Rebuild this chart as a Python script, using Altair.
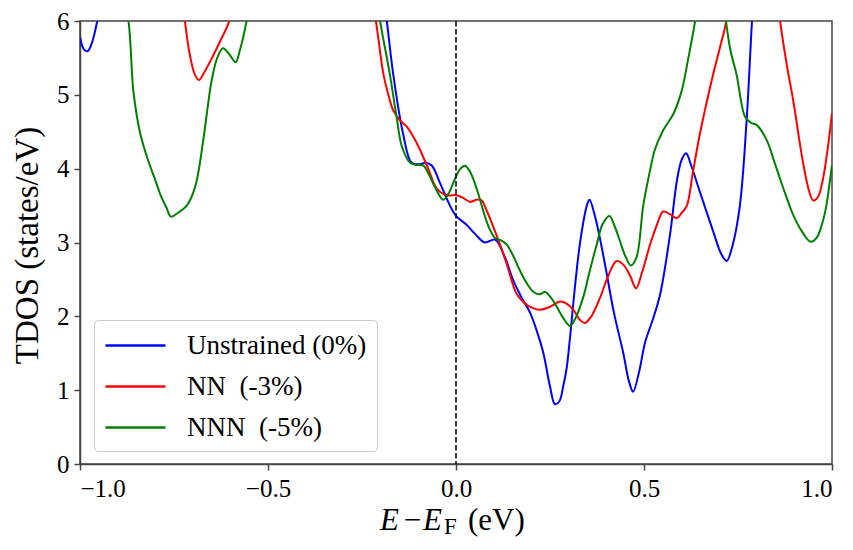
import altair as alt
import pandas as pd

FONT = "Liberation Serif"

series_names = ["Unstrained (0%)", "NN \u00a0(-3%)", "NNN \u00a0(-5%)"]
series_colors = ["#0000ff", "#ff0000", "#008000"]

x_ticks = [-1.0, -0.5, 0.0, 0.5, 1.0]
y_ticks = [0, 1, 2, 3, 4, 5, 6]
fermi_level = [0.0]

unstrained_e = [-1.0, -0.99, -0.98, -0.97, -0.955, -0.94, -0.9, -0.6, -0.3, -0.2, -0.184,
                -0.167, -0.141, -0.118, -0.096, -0.08, -0.064, -0.043, -0.016, 0.0, 0.028,
                0.05, 0.077, 0.104, 0.13, 0.152, 0.175, 0.197, 0.215, 0.232, 0.25, 0.263,
                0.275, 0.285, 0.294, 0.303, 0.312, 0.33, 0.348, 0.355, 0.37, 0.385, 0.40,
                0.42, 0.445, 0.46, 0.471, 0.487, 0.503, 0.523, 0.543, 0.569, 0.587, 0.60,
                0.612, 0.625, 0.649, 0.684, 0.705, 0.72, 0.735, 0.755, 0.773, 0.787, 0.80,
                0.9, 1.0]
unstrained_dos = [5.78, 5.62, 5.59, 5.68, 5.98, 6.5, 7.5, 8.0, 8.0, 6.6, 6.0,
                  5.28, 4.48, 4.08, 4.06, 4.08, 4.04, 3.81, 3.5, 3.36, 3.24,
                  3.12, 3.0, 3.04, 2.8, 2.49, 2.25, 2.05, 1.8, 1.51, 1.05, 0.81,
                  0.85, 1.05, 1.29, 1.7, 2.18, 3.0, 3.5, 3.58, 3.35, 3.0, 2.6,
                  2.05, 1.5, 1.12, 0.98, 1.25, 1.65, 1.95, 2.3, 3.1, 3.82, 4.12,
                  4.21, 4.05, 3.68, 3.15, 2.85, 2.75, 2.95, 3.5, 4.66, 5.98, 7.0,
                  8.0, 8.0]

nn_e = [-1.0, -0.8, -0.735, -0.721, -0.71, -0.695, -0.684, -0.67, -0.645, -0.625, -0.603,
        -0.58, -0.4, -0.23, -0.213, -0.193, -0.18, -0.167, -0.15, -0.131, -0.112, -0.096,
        -0.074, -0.051, -0.025, 0.002, 0.02, 0.037, 0.055, 0.068, 0.08, 0.09, 0.1, 0.117,
        0.135, 0.161, 0.19, 0.223, 0.25, 0.277, 0.295, 0.312, 0.33, 0.343, 0.36, 0.383,
        0.405, 0.427, 0.445, 0.463, 0.479, 0.495, 0.516, 0.535, 0.551, 0.57, 0.587, 0.60,
        0.614, 0.63, 0.649, 0.684, 0.70, 0.718, 0.73, 0.8, 0.85, 0.862, 0.88, 0.897,
        0.923, 0.94, 0.95, 0.963, 0.976, 0.988, 1.0]
nn_dos = [8.0, 7.5, 6.5, 6.0, 5.6, 5.28, 5.2, 5.3, 5.54, 5.75, 6.0,
          6.6, 8.0, 6.5, 6.0, 5.28, 5.0, 4.79, 4.66, 4.57, 4.42, 4.26,
          4.0, 3.73, 3.64, 3.64, 3.6, 3.55, 3.58, 3.57, 3.45, 3.33, 3.2, 2.97,
          2.71, 2.31, 2.15, 2.09, 2.13, 2.2, 2.17, 2.09, 1.95, 1.91, 2.0, 2.25,
          2.55, 2.75, 2.7, 2.55, 2.38, 2.6, 2.97, 3.25, 3.42, 3.38, 3.33, 3.4,
          3.5, 3.95, 4.48, 5.28, 5.6, 5.98, 6.5, 8.0, 6.6, 6.0, 5.4, 4.92,
          4.08, 3.68, 3.57, 3.62, 3.86, 4.25, 4.75]

nnn_e = [-1.0, -0.9, -0.871, -0.858, -0.84, -0.818, -0.8, -0.787, -0.77, -0.758, -0.74,
         -0.716, -0.694, -0.672, -0.66, -0.65, -0.635, -0.62, -0.603, -0.586, -0.575, -0.557,
         -0.54, -0.4, -0.22, -0.202, -0.176, -0.158, -0.144, -0.122, -0.105, -0.087, -0.07,
         -0.056, -0.034, -0.018, -0.003, 0.012, 0.024, 0.035, 0.046, 0.06, 0.073, 0.088,
         0.104, 0.12, 0.135, 0.152, 0.17, 0.188, 0.206, 0.222, 0.237, 0.253, 0.268, 0.285,
         0.303, 0.32, 0.339, 0.355, 0.374, 0.39, 0.408, 0.422, 0.436, 0.45, 0.465, 0.48,
         0.498, 0.515, 0.529, 0.551, 0.578, 0.6, 0.618, 0.636, 0.66, 0.69, 0.705, 0.718,
         0.73, 0.746, 0.769, 0.785, 0.8, 0.826, 0.845, 0.862, 0.88, 0.897, 0.92, 0.943,
         0.96, 0.973, 0.985, 0.995, 1.0]
nnn_dos = [8.0, 6.8, 6.0, 5.05, 4.48, 4.1, 3.85, 3.66, 3.47, 3.35, 3.4,
           3.5, 3.75, 4.39, 4.85, 5.19, 5.5, 5.63, 5.55, 5.44, 5.6, 6.0,
           6.6, 8.0, 6.6, 6.0, 5.28, 4.70, 4.3, 4.08, 4.05, 4.04, 3.9,
           3.75, 3.58, 3.68, 3.86, 4.0, 4.04, 3.98, 3.86, 3.65, 3.42, 3.2,
           3.06, 3.03, 2.97, 2.82, 2.62, 2.45, 2.33, 2.3, 2.33, 2.25, 2.13, 1.98,
           1.87, 2.0, 2.27, 2.6, 2.97, 3.25, 3.36, 3.22, 3.02, 2.82, 2.69, 2.8,
           3.5, 3.95, 4.26, 4.52, 4.74, 5.05, 5.5, 6.0, 6.8, 7.0, 6.6, 6.0,
           5.6, 5.28, 4.70, 4.62, 4.59, 4.39, 4.12, 3.86, 3.6, 3.37, 3.15, 3.01,
           3.07, 3.24, 3.5, 3.86, 4.05]

frames = []
for name, xs, ys in zip(series_names,
                        [unstrained_e, nn_e, nnn_e],
                        [unstrained_dos, nn_dos, nnn_dos]):
    frames.append(pd.DataFrame({"E": xs, "TDOS": ys, "series": name}))
df = pd.concat(frames, ignore_index=True)

x_scale = alt.Scale(domain=[-1.0, 1.0], nice=False, zero=False)
y_scale = alt.Scale(domain=[0, 6], nice=False)

lines = alt.Chart(df).mark_line(strokeWidth=2, clip=True, interpolate="catmull-rom").encode(
    x=alt.X("E:Q", scale=x_scale,
            axis=alt.Axis(values=x_ticks, format=".1f", title=None, labelPadding=6,
                          labelFont=FONT, labelFontSize=25)),
    y=alt.Y("TDOS:Q", scale=y_scale,
            axis=alt.Axis(values=y_ticks, format="d", title="TDOS (states/eV)",
                          labelPadding=5, labelFont=FONT, labelFontSize=25,
                          titleFont=FONT, titleFontSize=33,
                          titleFontWeight="normal", titleColor="black",
                          titleAngle=270, titleX=-43, titleY=224,
                          titleAlign="center", titleBaseline="alphabetic")),
    color=alt.Color("series:N",
                    scale=alt.Scale(domain=series_names, range=series_colors),
                    sort=series_names,
                    legend=alt.Legend(orient="none", legendX=14, legendY=299, title=None,
                                      padding=10, symbolType="M-1,0H3.286",
                                      symbolSize=784, symbolStrokeWidth=2.5,
                                      labelFont=FONT, labelFontSize=27, labelColor="black",
                                      labelOffset=52, rowPadding=12, labelLimit=400,
                                      fillColor="white", strokeColor="#cccccc",
                                      cornerRadius=4)),
)

rule = alt.Chart(pd.DataFrame({"E": fermi_level})).mark_rule(
    color="black", strokeDash=[5.5, 2.5], strokeWidth=1.5
).encode(x=alt.X("E:Q", scale=x_scale))


def title_piece(txt, px, py, size, style="normal", align="left"):
    return alt.Chart(pd.DataFrame({"t": [txt]})).mark_text(
        font=FONT, fontSize=size, fontStyle=style, align=align,
        baseline="alphabetic", color="black"
    ).encode(x=alt.value(px), y=alt.value(py), text="t:N")


title_parts = [
    title_piece("E", 300, 509, 31, "italic"),
    title_piece("\u2212", 332.5, 509, 31, "normal", "center"),
    title_piece("E", 343, 509, 31, "italic"),
    title_piece("F", 364, 513, 23),
    title_piece("(eV)", 388, 509, 31),
]

chart = alt.layer(lines, rule, *title_parts).properties(
    width=752, height=443,
    autosize=alt.AutoSizeParams(type="none"),
    padding={"left": 72, "top": 13, "right": 13, "bottom": 77},
).configure_view(
    stroke="#444444", strokeWidth=1.5
).configure_axis(
    labelFont=FONT, labelFontSize=25, labelColor="black",
    tickColor="#444444", tickWidth=1.5, tickSize=6,
    domainColor="#444444", domainWidth=1.5, grid=False
)

chart.save("out.html", embed_options={"renderer": "svg", "actions": False})
